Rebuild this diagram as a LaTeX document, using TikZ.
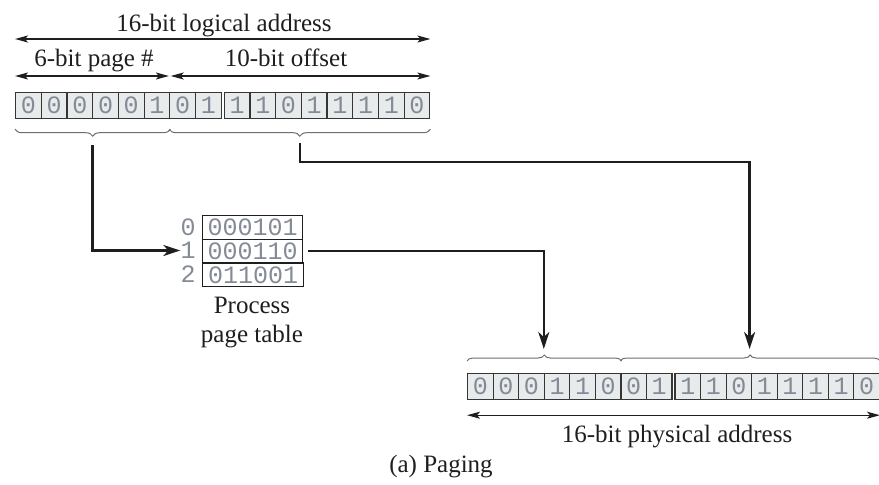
\documentclass[tikz,border=0pt]{standalone}
\usepackage{fontspec}
\setmainfont{Liberation Serif}
\setmonofont{Liberation Mono}
\usetikzlibrary{arrows.meta,decorations.pathreplacing,calc}

\definecolor{ink}{HTML}{1E1E1E}
\definecolor{cellfill}{HTML}{E7EBEB}
\definecolor{digit}{HTML}{858B96}
\definecolor{bracecol}{HTML}{6E6E6E}

\begin{document}
\begin{tikzpicture}[x=1pt,y=-1pt,
  lbl/.style={font=\fontsize{25}{29}\selectfont, text=ink, inner sep=0pt},
  bit/.style={draw=ink!90, line width=1.2pt, fill=cellfill, minimum height=26pt,
    inner sep=0pt, font=\fontsize{25}{25}\selectfont\ttfamily, text=digit, anchor=north west},
  ptrow/.style={draw=ink, line width=1.3pt, minimum width=100pt, minimum height=23.7pt,
    inner sep=0pt, font=\fontsize{25}{25}\selectfont\ttfamily, text=digit, anchor=north west},
  idx/.style={inner sep=0pt, font=\fontsize{25}{25}\selectfont\ttfamily, text=digit},
  dim/.style={draw=ink, line width=1.4pt, {Stealth[length=13pt,width=7pt,inset=3pt]}-{Stealth[length=13pt,width=7pt,inset=3pt]}},
  conn/.style={draw=ink, line width=2.3pt, -{Stealth[length=17pt,width=11pt,inset=5pt]}},
  brc/.style={draw=bracecol, line width=1pt, decorate, decoration={brace, amplitude=7pt}},
]
\useasboundingbox (0,0) rectangle (879,485);

% logical address register (two bytes, drawn with a small seam)
\foreach \b [count=\i from 0] in {0,0,0,0,0,1,0,1,1,1,0,1,1,1,1,0} {
  \pgfmathsetmacro\xx{15+\i*25.7+(\i>7)*3}
  \node[bit, minimum width=25.7pt] (la\i) at (\xx,92) {\b};
}

% physical address register
\foreach \b [count=\i from 0] in {0,0,0,1,1,0,0,1,1,1,0,1,1,1,1,0} {
  \pgfmathsetmacro\xx{467+\i*25.55+(\i>7)*3}
  \node[bit, minimum width=25.55pt] (pa\i) at (\xx,373) {\b};
}

% field widths above the logical address
\coordinate (laL) at ($(la0.north west)+(0,-53)$);
\coordinate (laR) at ($(la15.north east)+(0,-53)$);
\draw[dim] (laL) -- (laR);
\node[lbl, anchor=base] (latext) at (224,31) {16-bit logical address};

\coordinate (pgL) at ($(la0.north west)+(0,-16)$);
\coordinate (pgR) at ($(la5.north east)+(-1.5,-16)$);
\coordinate (ofL) at ($(la6.north west)+(1.5,-16)$);
\coordinate (ofR) at ($(la15.north east)+(0,-16)$);
\draw[dim] (pgL) -- (pgR);
\draw[dim] (ofL) -- (ofR);
\node[lbl, anchor=base] (pgtext) at (94,66) {6-bit page \#};
\node[lbl, anchor=base] (oftext) at (286,66) {10-bit offset};

% braces under the logical address
\draw[brc, decoration={mirror}] ($(la0.south west)+(0,10)$) -- ($(la5.south east)+(0,10)$);
\draw[brc, decoration={mirror}] ($(la6.south west)+(0,10)$) -- ($(la15.south east)+(0,10)$);

% braces over the physical address
\draw[brc, decoration={amplitude=6pt}] ($(pa0.north west)+(0,-12)$) -- ($(pa5.north east)+(0,-12)$);
\draw[brc, decoration={amplitude=6pt}] ($(pa6.north west)+(0,-12)$) -- ($(pa15.north east)+(0,-12)$);

% physical address width
\coordinate (paL) at ($(pa0.south west)+(0,15)$);
\coordinate (paR) at ($(pa15.south east)+(0,15)$);
\draw[dim] (paL) -- (paR);
\node[lbl, anchor=base] (patext) at (677,442) {16-bit physical address};

% process page table
\node[ptrow] (row0) at (202,215) {000101};
\node[ptrow] (row1) at (202,238.7) {000110};
\node[ptrow, minimum width=101pt] (row2) at (202,262.3) {011001};
\node[idx] (idx0) at (188,226.85) {0};
\node[idx] (idx1) at (188,250.5) {1};
\node[idx] (idx2) at (188,274.15) {2};
\node[lbl, anchor=base] (pttext1) at (252,313) {Process};
\node[lbl, anchor=base] (pttext2) at (252,342) {page table};

% connectors
\coordinate (pgS) at (92.4,145);
\coordinate (ofS) at (300,143);
\coordinate (ofK) at (300,162);
\coordinate (frT) at (543.8,349);
\coordinate (ofT) at (749.6,349);
\draw[conn] (pgS) |- (idx1);
\draw[conn] (ofS) -- (ofK) -| (ofT);
\draw[conn, shorten <=5pt] (row1.east) -| (frT);

% caption
\node[lbl, anchor=base] (caption) at (441,472) {(a) Paging};
\end{tikzpicture}
\end{document}
